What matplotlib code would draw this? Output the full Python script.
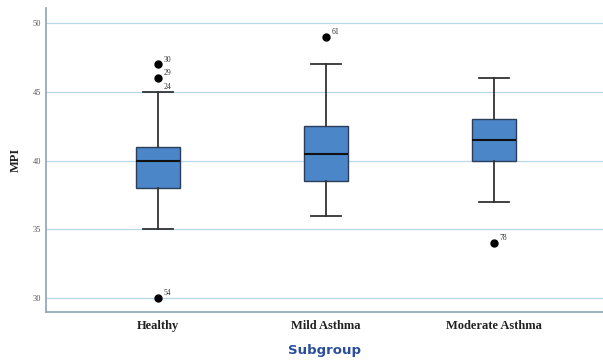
import matplotlib
matplotlib.use("Agg")
from matplotlib import pyplot as plt

groups = ["Healthy", "Mild Asthma", "Moderate Asthma"]
q1 = [38, 38.5, 40]
med = [40, 40.5, 41.5]
q3 = [41, 42.5, 43]
whislo = [35, 36, 37]
whishi = [45, 47, 46]
outliers = [[47, 46, 30], [49], [34]]
outlier_ids = [["30", "29", "24", "54"], ["61"], ["78"]]
outlier_label_y = [[47, 46, 45, 30], [49], [34]]

stats = []
for i, g in enumerate(groups):
    stats.append(dict(label=g, q1=q1[i], med=med[i], q3=q3[i],
                      whislo=whislo[i], whishi=whishi[i], fliers=outliers[i]))

fig = plt.figure(figsize=(6.03, 3.6), dpi=100)
ax = fig.add_axes([0.0763, 0.133, 0.924, 0.845])

ax.bxp(stats, positions=[1, 2, 3], widths=0.26, patch_artist=True,
       boxprops=dict(facecolor="#4a86c8", edgecolor="#2c3e5a", linewidth=1),
       medianprops=dict(color="#111111", linewidth=1.5),
       whiskerprops=dict(color="#333333", linewidth=1.3),
       capprops=dict(color="#333333", linewidth=1.3),
       capwidths=0.18,
       flierprops=dict(marker="o", markerfacecolor="black", markeredgecolor="black", markersize=5))

for i in range(3):
    for lab, yv in zip(outlier_ids[i], outlier_label_y[i]):
        ax.annotate(lab, (i + 1, yv), xytext=(4, 2), textcoords="offset points",
                    fontsize=5.5, color="#333333", family="Liberation Serif")

ax.set_xlim(0.333, 3.65)
ax.set_ylim(28.98, 51.1)
ax.set_yticks([30, 35, 40, 45, 50])
ax.yaxis.grid(True, color="#b8d8ec", linewidth=0.9)
ax.set_axisbelow(True)
ax.tick_params(axis="y", length=0, labelsize=6, labelcolor="#555555")
ax.tick_params(axis="x", length=0, pad=6)
for t in ax.get_yticklabels():
    t.set_family("Liberation Serif")
ax.set_xticks([1, 2, 3])
ax.set_xticklabels(groups, fontsize=9, fontweight="bold", family="Liberation Serif", color="#222222")

for s in ["top", "right"]:
    ax.spines[s].set_visible(False)
for s in ["left", "bottom"]:
    ax.spines[s].set_color("#8aa4b8")
    ax.spines[s].set_linewidth(1.2)

ax.set_ylabel("MPI", fontsize=9, fontweight="bold", family="Liberation Serif", color="#222222", labelpad=8)
ax.set_xlabel("Subgroup", fontsize=9.5, fontweight="bold", family="DejaVu Sans", color="#2a4f9a", labelpad=8)

fig.savefig("out.png", dpi=100)
